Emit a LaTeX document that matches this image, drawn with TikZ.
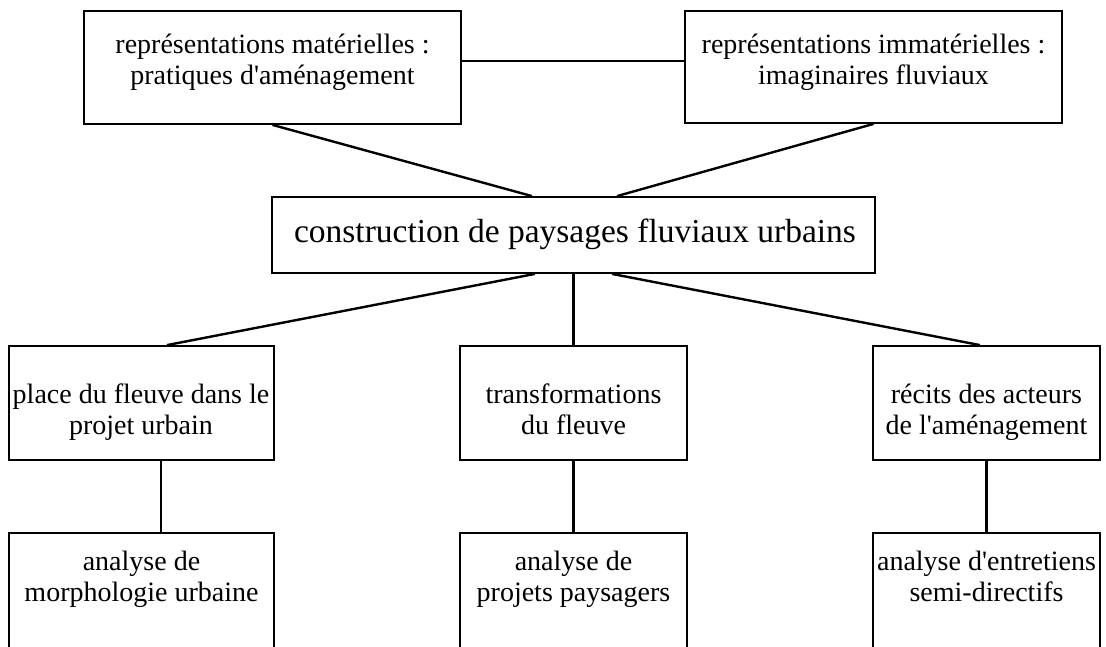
\documentclass[tikz,border=0pt]{standalone}
\usepackage{fontspec}
\setmainfont{Liberation Serif}[Ligatures=TeXOff]
\begin{document}
\begin{tikzpicture}[x=1pt,y=-1pt,
  box/.style 2 args={draw, line width=1.8pt, inner sep=0pt, minimum width=#1, minimum height=#2},
  lbl/.style={font=\fontsize{28}{30.5}\selectfont, align=center, inner sep=0pt, anchor=base},
  big/.style={font=\fontsize{33.5}{36}\selectfont, inner sep=0pt, anchor=base},
  link/.style={line width=2.4pt}]
\useasboundingbox (0,0) rectangle (1106,646);
\clip (0,0) rectangle (1106,646);
% boxes
\node[box={377pt}{113pt}] (tl) at (272.5,67.5) {};
\node[box={377pt}{112pt}] (tr) at (873.5,67) {};
\node[box={603pt}{76pt}] (mid) at (573.5,235) {};
\node[box={265pt}{114pt}] (l) at (141.5,403) {};
\node[box={227pt}{114pt}] (m) at (573.5,403) {};
\node[box={227pt}{114pt}] (r) at (986.5,403) {};
\node[box={265pt}{140pt}] (ll) at (141.5,603) {};
\node[box={227pt}{140pt}] (lm) at (573.5,603) {};
\node[box={227pt}{140pt}] (lr) at (986.5,603) {};
% labels
\node[lbl] (tlt) at (272.5,84) {représentations matérielles :\\pratiques d'aménagement};
\node[lbl] (trt) at (873.5,84) {représentations immatérielles :\\imaginaires fluviaux};
\node[big] (midt) at (575,242) {construction de paysages fluviaux urbains};
\node[lbl] (lt) at (141,434) {place du fleuve dans le\\projet urbain};
\node[lbl] (mt) at (573.5,434) {transformations\\du fleuve};
\node[lbl] (rt) at (986.5,434) {récits des acteurs\\de l'aménagement};
\node[lbl] (llt) at (141.5,601) {analyse de\\morphologie urbaine};
\node[lbl] (lmt) at (573.5,601) {analyse de\\projets paysagers};
\node[lbl] (lrt) at (986.5,601) {analyse d'entretiens\\semi-directifs};
% connectors
\draw[link] (tl.east |- 0,61) -- (tr.west |- 0,61);
\draw[link] (tl.south) -- (mid.north -| 532,0);
\draw[link] (tr.south) -- (mid.north -| 617,0);
\draw[link] (mid.south -| 535,0) -- (l.north -| 167,0);
\draw[link] (mid.south) -- (m.north);
\draw[link] (mid.south -| 612,0) -- (r.north -| 980,0);
\draw[link] (l.south -| 161,0) -- (ll.north -| 161,0);
\draw[link] (m.south) -- (lm.north);
\draw[link] (r.south) -- (lr.north);
\end{tikzpicture}
\end{document}
